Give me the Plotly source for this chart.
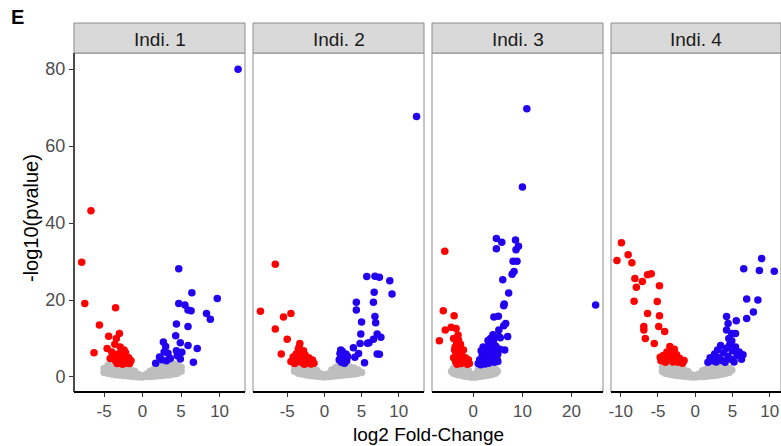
import plotly.graph_objects as go

W, H = 781, 446

panel_titles = ["Indi. 1", "Indi. 2", "Indi. 3", "Indi. 4"]
x_ticks = [[-5, 0, 5, 10], [-5, 0, 5, 10], [0, 10, 20], [-10, -5, 0, 5, 10]]
y_ticks = [0, 20, 40, 60, 80]
x_ranges = [[-8.9, 13.3], [-9.6, 13.4], [-8.4, 26.4], [-11.3, 11.5]]
y_range = [-3.9, 84.2]

# ---------------- data: (log2FC, -log10 p) ----------------
grey1 = [(-5.0,1.2),(-5.0,2.2),(-4.5,1.0),(-4.5,2.0),(-4.5,3.0),(-4.0,0.8),(-4.0,1.8),(-4.0,2.8),(-4.0,3.5),
         (-3.5,0.6),(-3.5,1.6),(-3.5,2.6),(-3.5,3.4),(-3.0,0.5),(-3.0,1.5),(-3.0,2.5),(-3.0,3.3),
         (-2.5,0.4),(-2.5,1.3),(-2.5,2.3),(-2.5,3.0),(-2.0,0.3),(-2.0,1.2),(-2.0,2.1),(-2.0,2.8),
         (-1.5,0.2),(-1.5,1.0),(-1.5,1.8),(-1.0,0.1),(-1.0,0.8),(-1.0,1.4),(-0.5,0.0),(-0.5,0.6),
         (0.0,0.0),(0.0,0.3),(0.5,0.1),(0.5,0.7),(1.0,0.1),(1.0,0.9),(1.0,1.5),(1.5,0.2),(1.5,1.1),(1.5,2.0),
         (2.0,0.3),(2.0,1.2),(2.0,2.2),(2.0,2.8),(2.5,0.4),(2.5,1.4),(2.5,2.4),(2.5,3.0),
         (3.0,0.5),(3.0,1.5),(3.0,2.5),(3.0,3.2),(3.5,0.6),(3.5,1.6),(3.5,2.6),(3.5,3.3),
         (4.0,0.8),(4.0,1.8),(4.0,2.8),(4.0,3.4),(4.5,1.0),(4.5,2.0),(4.5,3.0),(5.0,1.5),(5.0,2.5)]
red1 = [(-7.9,29.8),(-7.5,19.1),(-6.7,43.2),(-6.3,6.3),(-5.6,13.5),(-3.5,18.0),(-4.4,10.6),(-3.0,11.3),
        (-3.4,10.0),(-4.6,7.4),(-4.2,4.8),(-4.0,6.5),(-3.8,5.8),(-3.6,8.5),(-3.5,4.2),(-3.3,3.5),(-3.2,6.0),
        (-3.0,4.0),(-2.9,7.8),(-2.8,5.5),(-2.6,3.3),(-2.5,4.5),(-2.4,7.0),(-2.2,6.3),(-2.1,4.8),(-2.0,3.6),
        (-1.8,5.0),(-1.7,3.5),(-1.5,4.2),(-2.7,6.4),(-3.1,5.0),(-2.3,5.6)]
blue1 = [(12.4,80.0),(4.7,28.1),(6.4,21.9),(9.7,20.4),(4.7,19.1),(5.5,18.7),(5.9,17.4),(6.3,17.2),(8.3,16.5),
         (8.8,15.0),(4.4,13.8),(5.9,13.1),(4.3,10.7),(2.7,9.1),(4.9,8.9),(5.9,8.2),(7.1,7.4),(3.0,7.9),
         (4.4,6.8),(6.6,3.8),(4.9,4.7),(1.7,3.6),(2.2,5.2),(2.5,4.5),(3.1,4.2),(3.3,6.2),(3.6,4.8),(5.1,6.4),
         (2.8,6.5),(4.5,5.5)]

grey2 = [(-4.0,1.5),(-4.0,2.6),(-3.5,1.0),(-3.5,2.0),(-3.5,3.0),(-3.0,0.8),(-3.0,1.8),(-3.0,2.8),
         (-2.5,0.6),(-2.5,1.6),(-2.5,2.6),(-2.5,3.4),(-2.0,0.4),(-2.0,1.4),(-2.0,2.4),(-2.0,3.2),
         (-1.5,0.3),(-1.5,1.2),(-1.5,2.1),(-1.0,0.2),(-1.0,1.0),(-1.0,1.7),(-0.5,0.1),(-0.5,0.8),
         (0.0,0.0),(0.0,0.5),(0.5,0.1),(0.5,0.8),(1.0,0.2),(1.0,1.1),(1.0,1.8),(1.5,0.3),(1.5,1.3),(1.5,2.4),
         (2.0,0.4),(2.0,1.5),(2.0,2.7),(2.0,3.5),(2.5,0.5),(2.5,1.6),(2.5,2.8),(3.0,0.6),(3.0,1.7),(3.0,2.7),
         (3.5,0.7),(3.5,1.7),(3.5,2.5),(4.0,0.8),(4.0,1.7),(4.0,2.3),(4.5,1.0),(4.5,1.8),(5.0,1.2)]
red2 = [(-6.6,29.3),(-8.6,17.1),(-5.5,15.6),(-4.5,16.5),(-6.6,12.5),(-5.0,9.8),(-5.8,6.0),
        (-4.5,4.0),(-4.2,5.2),(-4.0,3.5),(-3.8,6.0),(-3.6,4.5),(-3.5,7.2),(-3.3,8.7),(-3.2,5.5),(-3.1,3.8),
        (-3.0,6.5),(-2.9,4.6),(-2.7,3.3),(-2.6,5.8),(-2.5,4.2),(-2.3,3.6),(-2.1,5.0),(-2.0,4.0),(-1.8,3.4),
        (-1.6,4.4),(-1.4,3.6),(-3.4,7.8),(-2.8,6.8)]
blue2 = [(12.4,67.7),(5.7,26.1),(6.8,26.2),(7.4,25.9),(8.8,25.0),(9.1,21.6),(6.7,22.0),(4.3,19.4),(6.6,19.4),
         (4.3,17.4),(6.8,15.7),(5.0,14.3),(6.9,14.1),(4.9,11.2),(7.1,11.2),(7.6,10.3),(6.6,9.8),(6.0,8.9),
         (5.8,8.8),(4.8,8.7),(3.9,7.6),(4.6,6.1),(4.1,5.1),(5.4,3.7),(7.1,6.0),(7.4,5.9),(3.1,5.3),
         (2.0,4.5),(2.1,6.1),(2.2,5.2),(2.3,3.8),(2.4,6.7),(2.5,4.6),(2.6,5.6),(2.7,3.6),(2.8,4.9),(2.9,6.0),
         (3.0,4.2),(3.1,5.3),(2.4,4.0),(2.2,7.0)]

grey3 = [(-4.4,1.5),(-4.0,1.0),(-4.0,2.2),(-3.5,0.8),(-3.5,1.9),(-3.5,2.9),(-3.0,0.6),(-3.0,1.6),(-3.0,2.7),
         (-2.5,0.5),(-2.5,1.4),(-2.5,2.5),(-2.0,0.3),(-2.0,1.2),(-2.0,2.2),(-1.5,0.2),(-1.5,1.0),(-1.5,1.9),
         (-1.0,0.1),(-1.0,0.8),(-1.0,1.6),(-0.5,0.0),(-0.5,0.7),(0.0,0.0),(0.0,0.6),(0.5,0.0),(0.5,0.8),
         (1.0,0.1),(1.0,1.0),(1.0,1.8),(1.5,0.2),(1.5,1.2),(1.5,2.2),(2.0,0.3),(2.0,1.3),(2.0,2.4),
         (2.5,0.4),(2.5,1.5),(2.5,2.6),(3.0,0.5),(3.0,1.6),(3.0,2.7),(3.5,0.6),(3.5,1.7),(3.5,2.8),
         (4.0,0.8),(4.0,1.8),(4.0,2.7),(4.5,1.0),(4.5,2.0),(4.9,1.5)]
red3 = [(-5.8,32.7),(-6.1,17.2),(-3.9,15.9),(-5.7,12.2),(-4.5,12.9),(-3.5,12.6),(-6.9,9.4),(-4.0,10.0),
        (-3.1,10.9),(-3.0,9.6),(-3.7,7.8),
        (-4.0,5.0),(-3.8,7.0),(-3.6,4.0),(-3.5,6.0),(-3.3,3.3),(-3.2,7.9),(-3.0,5.2),(-2.8,4.2),(-2.7,6.6),
        (-2.5,3.5),(-2.3,5.6),(-2.2,4.5),(-2.0,7.0),(-1.8,3.8),(-1.6,5.0),(-1.4,4.0),(-1.2,3.3),(-1.0,4.5),
        (-0.8,3.5),(-2.6,8.5),(-3.4,9.0)]
blue3 = [(10.9,69.7),(10.0,49.4),(24.9,18.7),(4.7,36.0),(5.8,35.0),(4.7,33.3),(8.6,35.6),(9.2,34.0),(8.7,33.1),
         (8.1,30.1),(8.9,30.1),(8.3,27.4),(7.9,26.7),(6.0,25.3),(7.2,21.8),(6.3,19.0),(6.2,18.5),(5.1,15.8),
         (4.2,15.6),(6.6,13.9),(6.2,13.3),(5.2,12.2),(7.0,10.5),(5.5,10.2),(4.1,9.8),(3.4,8.3),(6.4,7.0),
         (1.0,3.5),(1.3,4.5),(1.5,3.2),(1.8,5.5),(2.0,4.0),(2.2,6.5),(2.4,3.4),(2.5,5.0),(2.7,7.5),(2.8,4.3),
         (3.0,6.0),(3.1,3.6),(3.2,8.5),(3.4,5.2),(3.5,10.0),(3.6,4.0),(3.8,7.0),(4.0,5.6),(4.1,9.0),(4.3,3.8),
         (4.4,6.5),(4.6,8.0),(4.8,4.8),(5.0,6.0),(5.2,10.5),(5.4,7.2),(3.0,9.5),(2.0,7.8),(4.0,11.0),(5.0,4.0),
         (1.6,6.8)]

grey4 = [(-4.4,1.4),(-4.4,2.4),(-4.0,1.0),(-4.0,2.0),(-4.0,3.0),(-3.5,0.8),(-3.5,1.8),(-3.5,2.8),(-3.5,3.5),
         (-3.0,0.6),(-3.0,1.6),(-3.0,2.6),(-3.0,3.4),(-2.5,0.4),(-2.5,1.4),(-2.5,2.4),(-2.5,3.2),
         (-2.0,0.3),(-2.0,1.2),(-2.0,2.2),(-2.0,2.9),(-1.5,0.2),(-1.5,1.0),(-1.5,1.8),(-1.0,0.1),(-1.0,0.8),
         (-1.0,1.4),(-0.5,0.0),(-0.5,0.6),(0.0,0.0),(0.0,0.4),(0.5,0.1),(0.5,0.7),(1.0,0.1),(1.0,0.9),(1.0,1.6),
         (1.5,0.2),(1.5,1.1),(1.5,2.1),(2.0,0.3),(2.0,1.3),(2.0,2.3),(2.0,3.0),(2.5,0.4),(2.5,1.5),(2.5,2.5),
         (3.0,0.5),(3.0,1.6),(3.0,2.6),(3.0,3.3),(3.5,0.7),(3.5,1.7),(3.5,2.7),(4.0,0.9),(4.0,1.9),(4.0,2.8),
         (4.5,1.2),(4.5,2.2),(4.9,1.8)]
red4 = [(-9.9,34.9),(-10.5,30.3),(-9.0,31.8),(-8.5,29.7),(-8.1,25.6),(-7.9,23.3),(-7.1,24.8),(-6.4,26.6),
        (-5.9,26.8),(-4.8,23.7),(-8.2,19.7),(-5.1,19.6),(-6.4,16.5),(-4.8,15.9),(-6.9,13.1),(-4.9,13.1),
        (-6.9,12.2),(-4.1,11.8),(-6.7,10.0),(-5.5,8.7),(-4.7,5.1),
        (-4.6,4.2),(-4.3,5.6),(-4.0,3.8),(-3.8,6.5),(-3.6,4.6),(-3.4,7.9),(-3.2,5.2),(-3.0,3.9),(-2.9,6.8),
        (-2.7,4.4),(-2.5,5.8),(-2.3,3.8),(-2.1,4.9),(-1.9,4.0),(-1.7,3.6),(-1.5,4.3),(-3.5,6.0),(-2.8,7.2)]
blue4 = [(8.9,30.8),(6.5,28.1),(8.6,27.7),(10.6,27.5),(6.9,20.3),(8.4,20.0),(7.8,16.9),(6.9,15.2),(4.2,15.7),
         (5.5,14.6),(4.4,13.9),(4.2,12.2),(4.9,11.3),(5.4,11.3),(4.5,10.0),
         (1.7,3.8),(2.0,5.0),(2.3,4.2),(2.6,6.0),(2.8,3.9),(3.0,7.0),(3.2,5.0),(3.4,8.2),(3.6,4.3),(3.8,6.3),
         (4.0,3.8),(4.2,7.5),(4.4,5.4),(4.6,8.3),(4.8,4.6),(5.0,6.8),(5.2,3.9),(5.4,7.8),(5.6,5.6),(5.9,6.5),
         (6.2,4.6),(6.4,5.8),(3.0,4.5),(4.9,9.4)]

greys = [grey1, grey2, grey3, grey4]
reds = [red1, red2, red3, red4]
blues = [blue1, blue2, blue3, blue4]

# ---------------- layout geometry (pixels) ----------------
panel_px = [(74, 245), (253, 424), (432, 603), (611, 781)]
plot_top, plot_bot = 53, 392
strip_top = 23
FONT = "Liberation Sans, Arial, sans-serif"

def px(x):
    return x / W

def py(y):
    return (H - y) / H

fig = go.Figure()
colors = ["#BEBEBE", "#FF0000", "#2200F2"]
for i in range(4):
    ax = "" if i == 0 else str(i + 1)
    for pts, col in zip([greys[i], reds[i], blues[i]], colors):
        fig.add_trace(go.Scatter(
            x=[p[0] for p in pts], y=[p[1] for p in pts], mode="markers",
            marker=dict(color=col, size=7.5, line=dict(width=0)),
            xaxis="x" + ax, yaxis="y" + ax, showlegend=False, hoverinfo="skip"))

shapes = []
annotations = []
layout = dict(width=W, height=H, margin=dict(l=0, r=0, t=0, b=0),
              paper_bgcolor="white", plot_bgcolor="white", showlegend=False)

tickfont = dict(family=FONT, size=17, color="#4D4D4D")
for i in range(4):
    ax = "" if i == 0 else str(i + 1)
    x0, x1 = panel_px[i]
    layout["xaxis" + ax] = dict(
        domain=[px(x0), px(x1)], range=x_ranges[i], tickvals=x_ticks[i],
        ticktext=[str(v) for v in x_ticks[i]], ticks="outside", ticklen=4, tickwidth=1,
        tickcolor="#333333", showgrid=False, zeroline=False, showline=False,
        tickfont=tickfont, anchor="y" + ax, fixedrange=True, automargin=False)
    ydict = dict(domain=[py(plot_bot), py(plot_top)], range=y_range, showgrid=False, zeroline=False,
                 showline=False, anchor="x" + ax, fixedrange=True, automargin=False)
    if i == 0:
        ydict.update(tickvals=y_ticks, ticktext=[str(v) for v in y_ticks], ticks="outside",
                     ticklen=4, tickwidth=1, tickcolor="#333333",
                     tickfont=dict(family=FONT, size=18, color="#4D4D4D"))
    else:
        ydict.update(matches="y", showticklabels=False, ticks="")
    layout["yaxis" + ax] = ydict

    # panel border
    shapes.append(dict(type="rect", xref="paper", yref="paper", x0=px(x0), x1=px(x1),
                       y0=py(plot_bot), y1=py(plot_top), line=dict(color="#8C8C8C", width=1),
                       fillcolor="rgba(0,0,0,0)", layer="above"))
    # strip
    shapes.append(dict(type="rect", xref="paper", yref="paper", x0=px(x0), x1=px(x1),
                       y0=py(plot_top), y1=py(strip_top), line=dict(color="#8C8C8C", width=1),
                       fillcolor="#D9D9D9", layer="above"))
    # bottom axis line
    shapes.append(dict(type="line", xref="paper", yref="paper", x0=px(x0), x1=px(x1),
                       y0=py(plot_bot), y1=py(plot_bot), line=dict(color="black", width=2),
                       layer="above"))
    annotations.append(dict(text=panel_titles[i], xref="paper", yref="paper",
                            x=px((x0 + x1) / 2), y=py((strip_top + plot_top) / 2 + 1),
                            xanchor="center", yanchor="middle", showarrow=False,
                            font=dict(family=FONT, size=19, color="#1A1A1A")))

# left axis line for first panel
shapes.append(dict(type="line", xref="paper", yref="paper", x0=px(74), x1=px(74),
                   y0=py(plot_bot), y1=py(plot_top), line=dict(color="#222222", width=1.5),
                   layer="above"))

annotations.append(dict(text="<b>E</b>", xref="paper", yref="paper", x=px(9), y=py(17),
                        xanchor="left", yanchor="middle", showarrow=False,
                        font=dict(family=FONT, size=20, color="black")))
annotations.append(dict(text="log2 Fold-Change", xref="paper", yref="paper", x=px(428), y=py(434),
                        xanchor="center", yanchor="middle", showarrow=False,
                        font=dict(family=FONT, size=19, color="black")))
annotations.append(dict(text="-log10(pvalue)", xref="paper", yref="paper", x=px(31), y=py(218),
                        xanchor="center", yanchor="middle", showarrow=False, textangle=-90,
                        font=dict(family=FONT, size=20, color="black")))

layout["shapes"] = shapes
layout["annotations"] = annotations
fig.update_layout(**layout)
fig.write_html("out.html")
